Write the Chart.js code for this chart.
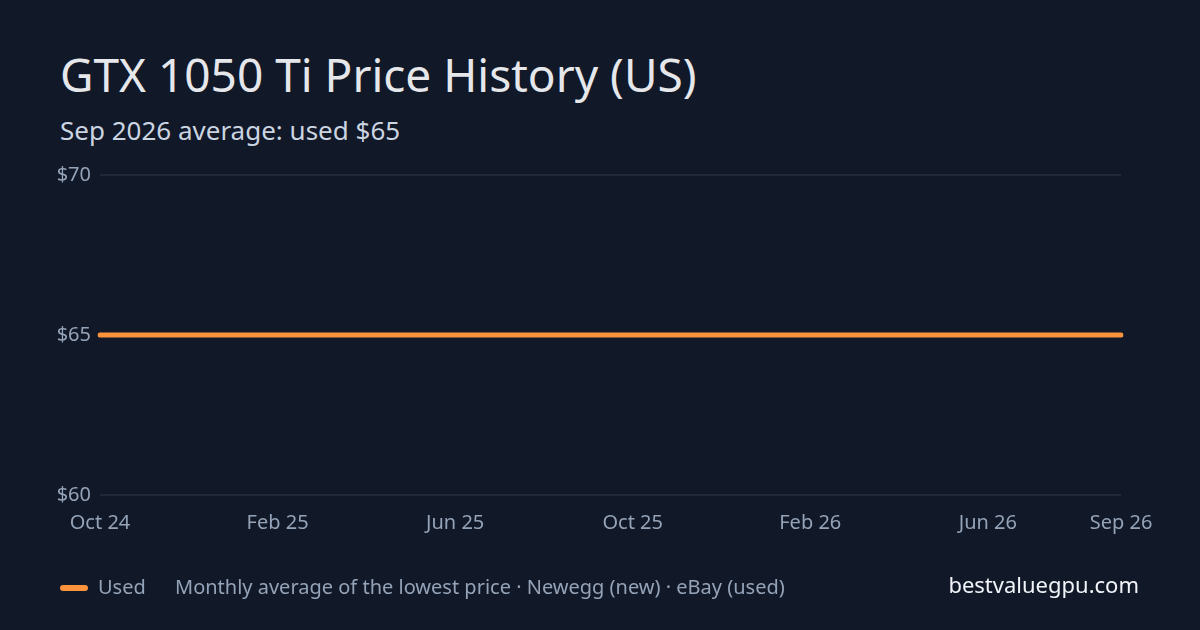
<!DOCTYPE html>
<html><head><meta charset="utf-8">
<script src="https://cdn.jsdelivr.net/npm/chart.js@4"></script>
<style>
html,body{margin:0;padding:0;background:#111827;}
body{width:1200px;height:630px;position:relative;overflow:hidden;font-family:"Noto Sans",sans-serif;}
#c{position:absolute;left:0;top:0;}
.t{position:absolute;white-space:nowrap;line-height:1;}
#title{left:60px;top:51px;font-size:46px;color:#e5e7eb;}
#sub{left:60px;top:117px;font-size:26px;color:#cbd5e1;}
#leg{left:60px;top:577px;font-size:20px;color:#94a3b8;}
#leg .sw{display:inline-block;width:28px;height:6px;border-radius:3px;background:#fb923c;vertical-align:middle;margin-right:10px;position:relative;top:-1px;}
#note{left:175px;top:577px;font-size:20px;color:#94a3b8;}
#site{right:61px;top:573px;font-size:22px;color:#f1f5f9;}
</style></head><body>
<div class="t" id="title">GTX 1050 Ti Price History (US)</div>
<div class="t" id="sub">Sep 2026 average: used $65</div>
<canvas id="c" width="1200" height="630"></canvas>
<div class="t" id="leg"><span class="sw"></span>Used</div>
<div class="t" id="note">Monthly average of the lowest price · Newegg (new) · eBay (used)</div>
<div class="t" id="site">bestvaluegpu.com</div>
<script>
const months = ["Oct 24","Nov 24","Dec 24","Jan 25","Feb 25","Mar 25","Apr 25","May 25","Jun 25","Jul 25","Aug 25","Sep 25","Oct 25","Nov 25","Dec 25","Jan 26","Feb 26","Mar 26","Apr 26","May 26","Jun 26","Jul 26","Aug 26","Sep 26"];
const usedPrices = [65,65,65,65,65,65,65,65,65,65,65,65,65,65,65,65,65,65,65,65,65,65,65,65];
const shownTicks = ["Oct 24","Feb 25","Jun 25","Oct 25","Feb 26","Jun 26","Sep 26"];
const yTicks = [60,65,70];

new Chart(document.getElementById('c'), {
  type: 'line',
  data: { labels: months, datasets: [{ label: 'Used', data: usedPrices, borderColor: '#fb923c', backgroundColor: '#fb923c', borderWidth: 5, borderCapStyle: 'round', pointRadius: 0, tension: 0 }] },
  options: {
    responsive: false, animation: false,
    devicePixelRatio: 1,
    layout: { padding: { left: 0, right: 79, top: 175, bottom: 0 } },
    plugins: { legend: { display: false }, tooltip: { enabled: false } },
    scales: {
      x: {
        type: 'category', offset: false,
        grid: { display: false, drawTicks: false },
        border: { display: false },
        ticks: { autoSkip: false, maxRotation: 0, padding: 16, color: '#94a3b8', font: { family: 'Noto Sans', size: 20 },
          callback: function(v, i) { const l = months[i]; return shownTicks.includes(l) ? l : ''; } },
        afterFit: s => { s.height = 135; }
      },
      y: {
        min: 60, max: 70,
        afterBuildTicks: s => { s.ticks = yTicks.map(v => ({ value: v })); },
        grid: { color: '#1f2937', lineWidth: 2, drawTicks: false },
        border: { display: false },
        ticks: { padding: 9, color: '#94a3b8', font: { family: 'Noto Sans', size: 20 }, callback: v => '$' + v },
        afterFit: s => { s.width = 100; }
      }
    }
  }
});
</script>
</body></html>
